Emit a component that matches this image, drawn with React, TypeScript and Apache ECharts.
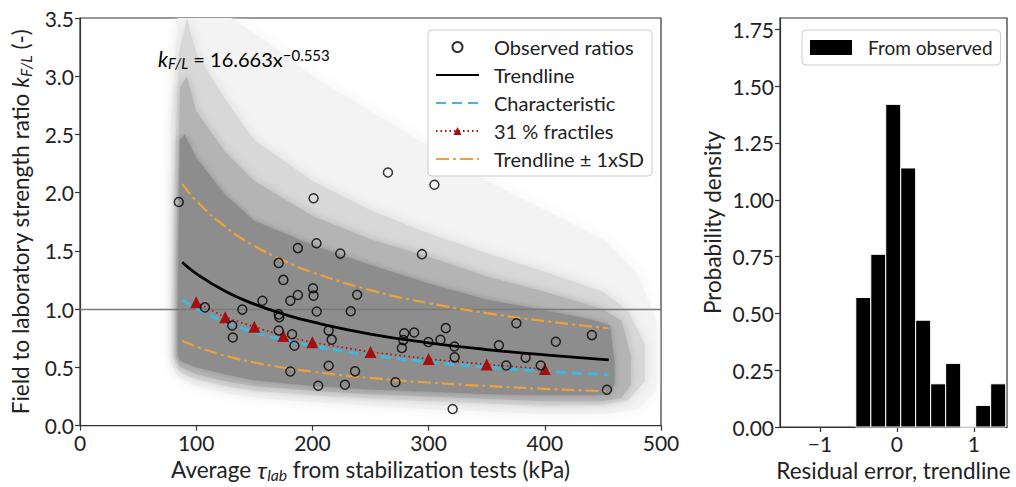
import { useEffect, useRef } from 'react';
import * as echarts from 'echarts';

// ---------- Observed ratios ----------
const obsX = [85, 107.5, 131, 131.5, 139.7, 157, 171, 175, 171, 171.5, 171, 181, 187.5, 187.5, 182.5, 184.5, 181,
  201, 203.5, 200.5, 201, 203.7, 214, 216.6, 214, 205, 224, 238.5, 233, 236.7, 228, 265, 271.5, 279, 287.6, 278.2, 277,
  305, 294.3, 299.8, 310.2, 314.8, 322.2, 322.4, 320.7, 360.5, 366.8, 375.5, 383.5, 396.5, 409.5, 440.5, 453.5];
const obsY = [1.92, 1.015, 0.86, 0.757, 0.996, 1.072, 1.397, 1.251, 0.955, 0.93, 0.817, 1.072, 1.121, 1.524, 0.784, 0.686, 0.464,
  1.952, 1.566, 1.18, 1.116, 0.98, 0.816, 0.738, 0.514, 0.342, 1.477, 1.123, 0.982, 0.466, 0.351, 2.173, 0.372, 0.792, 0.8, 0.734, 0.667,
  2.068, 1.472, 0.718, 0.737, 0.837, 0.679, 0.586, 0.142, 0.69, 0.516, 0.879, 0.584, 0.516, 0.72, 0.777, 0.308];

// ---------- Curves ----------
const curveX = [88, 100, 125, 150, 175, 200, 250, 300, 350, 400, 455];
const trendY = [1.402, 1.305, 1.154, 1.043, 0.958, 0.890, 0.786, 0.711, 0.653, 0.607, 0.565];
const sdUpperY = [2.075, 1.931, 1.708, 1.544, 1.418, 1.317, 1.163, 1.052, 0.966, 0.898, 0.836];
const sdLowerY = [0.729, 0.679, 0.600, 0.542, 0.498, 0.463, 0.409, 0.370, 0.340, 0.316, 0.294];
const charY = [1.080, 1.005, 0.889, 0.803, 0.738, 0.685, 0.605, 0.547, 0.503, 0.467, 0.435];

const fracX = [100, 125, 150, 175, 200, 250, 300, 350, 400];
const fracY = [1.06, 0.93, 0.848, 0.77, 0.715, 0.632, 0.572, 0.525, 0.486];

// ---------- Simulated cloud (outlines of point-density bands) ----------
const haloX = [78, 84, 100, 130, 160, 200, 250, 300, 350, 400, 450, 480, 496];
const haloUp = [2.6, 3.5, 3.5, 3.5, 3.3, 3.0, 2.7, 2.4, 2.1, 1.85, 1.6, 1.3, 0.9];
const haloLo = [0.55, 0.42, 0.34, 0.27, 0.23, 0.2, 0.17, 0.14, 0.12, 0.1, 0.1, 0.14, 0.3];

const midX = [81, 85, 92, 100, 125, 150, 200, 250, 300, 350, 400, 450, 472, 486];
const midUp = [2.0, 3.2, 3.5, 3.2, 2.8, 2.45, 2.1, 1.85, 1.65, 1.48, 1.32, 1.15, 0.98, 0.7];
const midLo = [0.58, 0.47, 0.43, 0.4, 0.34, 0.3, 0.26, 0.23, 0.21, 0.19, 0.17, 0.18, 0.22, 0.38];

const innerX = [83, 86, 92, 100, 125, 150, 200, 250, 300, 350, 400, 450, 466, 474];
const innerUp = [1.5, 2.9, 3.0, 2.7, 2.35, 2.1, 1.8, 1.6, 1.45, 1.28, 1.15, 1.0, 0.9, 0.6];
const innerLo = [0.58, 0.5, 0.48, 0.44, 0.38, 0.34, 0.3, 0.27, 0.25, 0.23, 0.21, 0.21, 0.24, 0.35];

const coreX = [84, 86, 90, 100, 125, 150, 200, 250, 300, 350, 400, 440, 456, 460];
const coreUp = [1.0, 2.45, 2.5, 2.3, 1.98, 1.76, 1.55, 1.38, 1.22, 1.08, 0.99, 0.91, 0.86, 0.55];
const coreLo = [0.62, 0.56, 0.54, 0.5, 0.44, 0.39, 0.34, 0.31, 0.29, 0.27, 0.26, 0.26, 0.27, 0.36];

// ---------- Histogram ----------
const binEdges = [-0.535, -0.340, -0.146, 0.049, 0.243, 0.438, 0.633, 0.828, 1.023, 1.218, 1.413];
const density = [0.57, 0.76, 1.42, 1.14, 0.47, 0.19, 0.28, 0, 0.095, 0.19];

// ---------- Ticks ----------
const histXTicks = [-1, 0, 1];
const histYTicks = [0, 0.25, 0.5, 0.75, 1.0, 1.25, 1.5, 1.75];

const FONT = 'Lato';
const TXT = '#222';
const TITLE = 22.5;

function band(xs: number[], up: number[], lo: number[], color: string, blur: number) {
  return {
    type: 'custom',
    xAxisIndex: 0,
    yAxisIndex: 0,
    silent: true,
    z: 1,
    clip: true,
    data: [[xs[0], up[0]]],
    renderItem: (_p: any, api: any) => {
      const pts: number[][] = [];
      xs.forEach((x, i) => pts.push(api.coord([x, up[i]])));
      for (let i = xs.length - 1; i >= 0; i--) pts.push(api.coord([xs[i], lo[i]]));
      return {
        type: 'polygon',
        shape: { points: pts },
        style: { fill: color, shadowBlur: blur, shadowColor: color },
      };
    },
  };
}

const richSub = (size: number) => ({
  k: { fontStyle: 'italic', fontSize: size, fontFamily: FONT, color: TXT },
  s: { fontStyle: 'italic', fontSize: size * 0.7, fontFamily: FONT, color: TXT, verticalAlign: 'bottom', padding: [size * 0.4, 0, 0, 0] },
  t: { fontStyle: 'italic', fontSize: size * 1.05, fontFamily: FONT, color: TXT },
  n: { fontSize: size, fontFamily: FONT, color: TXT },
});

export default function App() {
  const ref = useRef<HTMLDivElement>(null);
  useEffect(() => {
    const chart = echarts.init(ref.current!, null, { renderer: 'svg' });
    const axisLine = { show: true, onZero: false, lineStyle: { color: '#333', width: 1.2 } };
    const axisTick = { show: true, length: 5, lineStyle: { color: '#333', width: 1.2 } };
    const axisLabel = { fontSize: 21, fontFamily: FONT, color: TXT, margin: 6 };
    const hide = { opacity: 0 };

    const option: any = {
      animation: false,
      backgroundColor: '#fff',
      grid: [
        { left: 80, right: 355, top: 18, bottom: 60, show: true, borderColor: '#333', borderWidth: 1.2, backgroundColor: 'transparent' },
        { left: 780, right: 9, top: 18, bottom: 60, show: true, borderColor: '#333', borderWidth: 1.2, backgroundColor: 'transparent' },
      ],
      xAxis: [
        {
          type: 'value', gridIndex: 0, min: 0, max: 500, interval: 100,
          axisLine, axisTick, axisLabel, splitLine: { show: false },
          name: 'Average {t|τ}{s|lab} from stabilization tests (kPa)',
          nameLocation: 'middle', nameGap: 29,
          nameTextStyle: { fontSize: TITLE, fontFamily: FONT, color: TXT, rich: richSub(TITLE) },
        },
        {
          type: 'value', gridIndex: 1, min: -1.52, max: 1.43,
          axisLine,
          axisTick: { ...axisTick, customValues: histXTicks },
          axisLabel: { ...axisLabel, customValues: histXTicks, formatter: (v: number) => (v < 0 ? '−' + Math.abs(v) : String(v)) },
          splitLine: { show: false },
          name: 'Residual error, trendline',
          nameLocation: 'middle', nameGap: 30,
          nameTextStyle: { fontSize: TITLE, fontFamily: FONT, color: TXT },
        },
      ],
      yAxis: [
        {
          type: 'value', gridIndex: 0, min: 0, max: 3.5, interval: 0.5,
          axisLine, axisTick,
          axisLabel: { ...axisLabel, formatter: (v: number) => v.toFixed(1) },
          splitLine: { show: false },
          name: 'Field to laboratory strength ratio {k|k}{s|F/L} (-)',
          nameLocation: 'middle', nameGap: 47,
          nameTextStyle: { fontSize: TITLE, fontFamily: FONT, color: TXT, rich: richSub(TITLE) },
        },
        {
          type: 'value', gridIndex: 1, min: 0, max: 1.8,
          axisLine,
          axisTick: { ...axisTick, customValues: histYTicks },
          axisLabel: { ...axisLabel, customValues: histYTicks, formatter: (v: number) => v.toFixed(2) },
          splitLine: { show: false },
          name: 'Probability density',
          nameLocation: 'middle', nameGap: 56,
          nameTextStyle: { fontSize: TITLE, fontFamily: FONT, color: TXT },
        },
      ],
      legend: [
        {
          left: 428, top: 30, orient: 'vertical',
          itemWidth: 43, itemHeight: 10, itemGap: 8,
          padding: [7, 8, 7, 7],
          backgroundColor: '#fff', borderColor: '#ccc', borderWidth: 1, borderRadius: 4,
          textStyle: { fontSize: 20, fontFamily: FONT, color: TXT, padding: [0, 0, 0, 10] },
          data: [
            { name: 'Observed ratios' },
            { name: 'Trendline', itemStyle: hide },
            { name: 'Characteristic', itemStyle: hide },
            { name: '31 % fractiles' },
            { name: 'Trendline ± 1xSD', itemStyle: hide },
          ],
        },
        {
          left: 802, top: 30, orient: 'vertical',
          itemWidth: 42, itemHeight: 15,
          padding: [8, 8, 8, 8],
          backgroundColor: '#fff', borderColor: '#ccc', borderWidth: 1, borderRadius: 4,
          textStyle: { fontSize: 19, fontFamily: FONT, color: TXT, padding: [0, 0, 0, 11] },
          data: [{ name: 'From observed', icon: 'rect', itemStyle: { color: '#000' } }],
        },
      ],
      graphic: [
        {
          type: 'text', left: 158, top: 47, z: 100,
          style: {
            text: '{k|k}{s|F/L}{n| = 16.663x}{p|−0.553}',
            rich: {
              ...richSub(21),
              n: { fontSize: 20, fontFamily: FONT, color: TXT },
              p: { fontSize: 15, fontFamily: FONT, color: TXT, verticalAlign: 'top', padding: [0, 0, 8, 0] },
            },
          },
        },
      ],
      series: [
        band(haloX, haloUp, haloLo, '#f3f3f3', 14),
        band(midX, midUp, midLo, '#d8d8d8', 12),
        band(innerX, innerUp, innerLo, '#b4b4b4', 10),
        band(coreX, coreUp, coreLo, '#8d8d8d', 6),
        {
          name: 'Trendline ± 1xSD', type: 'line', xAxisIndex: 0, yAxisIndex: 0, smooth: true, showSymbol: false, symbol: 'none', z: 3,
          data: curveX.map((x, i) => [x, sdUpperY[i]]),
          color: '#eca23c',
          lineStyle: { color: '#eca23c', width: 2.2, type: [13, 4, 3, 4] },
          markLine: {
            silent: true, symbol: 'none', label: { show: false }, z: 2,
            lineStyle: { color: '#7a7a7a', width: 1.3, type: 'solid' },
            data: [{ yAxis: 1 }],
          },
        },
        {
          name: 'Trendline ± 1xSD', type: 'line', xAxisIndex: 0, yAxisIndex: 0, smooth: true, showSymbol: false, symbol: 'none', z: 3,
          data: curveX.map((x, i) => [x, sdLowerY[i]]),
          color: '#eca23c',
          lineStyle: { color: '#eca23c', width: 2.2, type: [13, 4, 3, 4] },
        },
        {
          name: 'Characteristic', type: 'line', xAxisIndex: 0, yAxisIndex: 0, smooth: true, showSymbol: false, symbol: 'none', z: 4,
          data: curveX.map((x, i) => [x, charY[i]]),
          color: '#3fb7de',
          lineStyle: { color: '#3fb7de', width: 3, type: [10, 6] },
        },
        {
          name: 'Trendline', type: 'line', xAxisIndex: 0, yAxisIndex: 0, smooth: true, showSymbol: false, symbol: 'none', z: 5,
          data: curveX.map((x, i) => [x, trendY[i]]),
          color: '#000',
          lineStyle: { color: '#000', width: 2.8 },
        },
        {
          name: '31 % fractiles', type: 'line', xAxisIndex: 0, yAxisIndex: 0, symbol: 'triangle', symbolSize: 12, z: 6,
          data: fracX.map((x, i) => [x, fracY[i]]),
          color: '#a5100f',
          itemStyle: { color: '#a5100f' },
          lineStyle: { color: '#a5100f', width: 1.6, type: [1.5, 3] },
        },
        {
          name: 'Observed ratios', type: 'scatter', xAxisIndex: 0, yAxisIndex: 0, symbol: 'circle', symbolSize: 9, z: 7,
          data: obsX.map((x, i) => [x, obsY[i]]),
          color: '#000',
          itemStyle: { color: 'rgba(0,0,0,0)', borderColor: '#000', borderWidth: 1.5 },
        },
        {
          name: 'From observed', type: 'custom', xAxisIndex: 1, yAxisIndex: 1,
          color: '#000',
          itemStyle: { color: '#000' },
          encode: { x: [0, 1], y: 2 },
          data: density.map((d, i) => [binEdges[i], binEdges[i + 1], d]),
          renderItem: (_p: any, api: any) => {
            const lo = api.value(0), hi = api.value(1), d = api.value(2);
            const p0 = api.coord([lo, d]);
            const p1 = api.coord([hi, 0]);
            return {
              type: 'rect',
              shape: { x: p0[0], y: p0[1], width: p1[0] - p0[0], height: p1[1] - p0[1] },
              style: { fill: '#000', stroke: '#fff', lineWidth: 1 },
            };
          },
        },
      ],
    };
    chart.setOption(option);
    return () => chart.dispose();
  }, []);
  return <div ref={ref} style={{ position: 'absolute', left: 0, top: 0, width: 1016, height: 487 }} />;
}
